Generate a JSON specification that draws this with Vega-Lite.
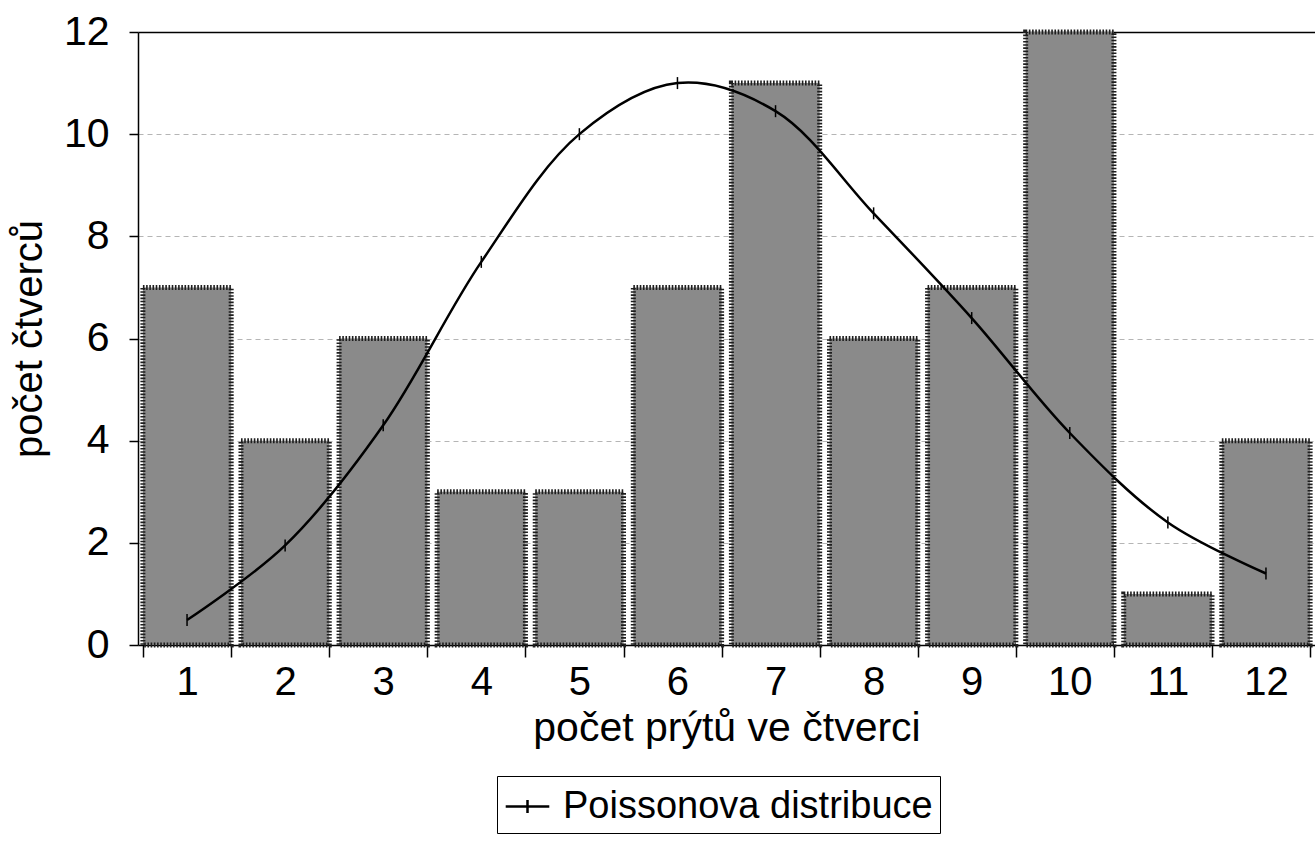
{
  "$schema": "https://vega.github.io/schema/vega-lite/v6.json",
  "width": 1177,
  "height": 613,
  "autosize": {"type": "none"},
  "padding": {"left": 138, "top": 32, "right": 0, "bottom": 198},
  "background": "white",
  "config": {
    "font": "Liberation Sans",
    "view": {"stroke": null}
  },
  "data": {
    "values": [
      {"n": 1, "count": 7, "poisson": 0.49},
      {"n": 2, "count": 4, "poisson": 1.95},
      {"n": 3, "count": 6, "poisson": 4.3},
      {"n": 4, "count": 3, "poisson": 7.5},
      {"n": 5, "count": 3, "poisson": 10.0},
      {"n": 6, "count": 7, "poisson": 11.0},
      {"n": 7, "count": 11, "poisson": 10.45},
      {"n": 8, "count": 6, "poisson": 8.45},
      {"n": 9, "count": 7, "poisson": 6.4},
      {"n": 10, "count": 12, "poisson": 4.15},
      {"n": 11, "count": 1, "poisson": 2.4},
      {"n": 12, "count": 4, "poisson": 1.4}
    ]
  },
  "encoding": {
    "x": {
      "field": "n",
      "type": "ordinal",
      "scale": {"paddingInner": 0.1, "paddingOuter": 0.05},
      "axis": {
        "title": "počet prýtů ve čtverci",
        "titleFontSize": 41,
        "titleFontWeight": "normal",
        "titleColor": "black",
        "titlePadding": 6,
        "labelFontSize": 40,
        "labelColor": "black",
        "labelAngle": 0,
        "labelPadding": 5,
        "tickBand": "extent",
        "tickSize": 12,
        "tickColor": "black",
        "tickWidth": 1.5,
        "domainColor": "black",
        "domainWidth": 1.5,
        "grid": false
      }
    }
  },
  "layer": [
    {
      "mark": {"type": "bar", "fill": "#8a8a8a", "stroke": "#1e1e1e", "strokeWidth": 5, "strokeDash": [1.6, 1.6]},
      "encoding": {
        "y": {
          "field": "count",
          "type": "quantitative",
          "scale": {"domain": [0, 12], "nice": false},
          "axis": {
            "title": "počet čtverců",
            "titleFontSize": 40,
            "titleFontWeight": "normal",
            "titleColor": "black",
            "titlePadding": 14,
            "values": [0, 2, 4, 6, 8, 10, 12],
            "labelFontSize": 41,
            "labelColor": "black",
            "labelPadding": 20,
            "tickSize": 9,
            "tickColor": "black",
            "tickWidth": 1.5,
            "domainColor": "black",
            "domainWidth": 1.5,
            "grid": true,
            "gridColor": {"condition": {"test": "datum.value === 12", "value": "black"}, "value": "#b5b5b5"},
            "gridDash": {"condition": {"test": "datum.value === 12", "value": []}, "value": [5, 4]},
            "gridWidth": {"condition": {"test": "datum.value === 12", "value": 1.5}, "value": 1},
            "gridOpacity": {"condition": {"test": "datum.value === 0", "value": 0}, "value": 1}
          }
        }
      }
    },
    {
      "mark": {"type": "line", "interpolate": "catmull-rom", "strokeWidth": 2.5},
      "encoding": {
        "y": {"field": "poisson", "type": "quantitative"},
        "color": {
          "datum": "Poissonova distribuce",
          "scale": {"range": ["black"]},
          "legend": {
            "title": null,
            "orient": "none",
            "legendX": 359,
            "legendY": 744,
            "labelFontSize": 38,
            "labelLimit": 0,
            "labelColor": "black",
            "labelOffset": 12,
            "strokeColor": "black",
            "fillColor": "white",
            "padding": 7,
            "symbolType": "M-1,0H1M0,-0.3V0.3",
            "symbolSize": 1900,
            "symbolStrokeWidth": 2.5,
            "symbolStrokeColor": "black",
            "symbolFillColor": "transparent"
          }
        }
      }
    },
    {
      "mark": {"type": "point", "shape": "M0,-1V1", "size": 144, "filled": false, "stroke": "black", "strokeWidth": 1.5, "opacity": 1},
      "encoding": {
        "y": {"field": "poisson", "type": "quantitative"}
      }
    }
  ]
}
